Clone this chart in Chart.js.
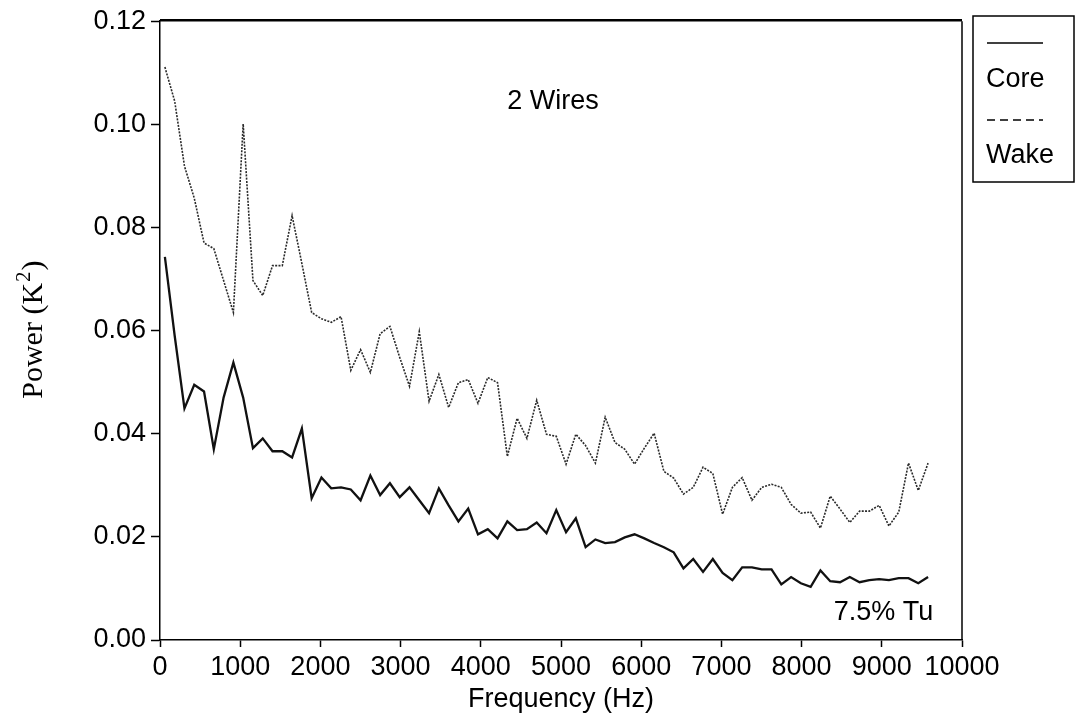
<!DOCTYPE html>
<html lang="en">
<head>
<meta charset="UTF-8">
<title>Power spectrum - 2 Wires</title>
<script src="https://cdn.jsdelivr.net/npm/chart.js"></script>
<style>
  html, body { margin: 0; padding: 0; background: #fff; }
  #wrap { width: 1082px; height: 719px; }
</style>
</head>
<body>
<div id="wrap"><canvas id="grafico" width="1082" height="719"></canvas></div>
<script>
// spectrum bins (Hz)
const freqHz = [
  61, 183, 305, 427, 549, 671, 793, 915, 1037, 1159,
  1281, 1403, 1525, 1647, 1769, 1891, 2013, 2135, 2257, 2379,
  2501, 2623, 2745, 2867, 2989, 3111, 3233, 3355, 3477, 3599,
  3721, 3843, 3965, 4087, 4209, 4331, 4453, 4575, 4697, 4819,
  4941, 5063, 5185, 5307, 5429, 5551, 5673, 5795, 5917, 6039,
  6161, 6283, 6405, 6527, 6649, 6771, 6893, 7015, 7137, 7259,
  7381, 7503, 7625, 7747, 7869, 7991, 8113, 8235, 8357, 8479,
  8601, 8723, 8845, 8967, 9089, 9211, 9333, 9455, 9577
];

// power in K^2, core of the flow
const corePower = [
  0.0743, 0.0590, 0.0449, 0.0495, 0.0482, 0.0370, 0.0470, 0.0538, 0.0470, 0.0372,
  0.0391, 0.0366, 0.0366, 0.0354, 0.0410, 0.0275, 0.0315, 0.0294, 0.0296, 0.0292,
  0.0271, 0.0319, 0.0281, 0.0304, 0.0277, 0.0296, 0.0271, 0.0246, 0.0294, 0.0261,
  0.0230, 0.0255, 0.0205, 0.0215, 0.0197, 0.0230, 0.0213, 0.0215, 0.0228, 0.0207,
  0.0252, 0.0209, 0.0236, 0.0180, 0.0195, 0.0188, 0.0190, 0.0199, 0.0205, 0.0197,
  0.0188, 0.0180, 0.0170, 0.0139, 0.0157, 0.0132, 0.0157, 0.0130, 0.0116, 0.0141,
  0.0141, 0.0137, 0.0137, 0.0108, 0.0122, 0.0110, 0.0103, 0.0135, 0.0114, 0.0112,
  0.0122, 0.0112, 0.0116, 0.0118, 0.0116, 0.0120, 0.0120, 0.0110, 0.0122
];

// power in K^2, wake region
const wakePower = [
  0.1111, 0.1045, 0.0919, 0.0857, 0.0770, 0.0759, 0.0697, 0.0635, 0.1001, 0.0697,
  0.0668, 0.0726, 0.0726, 0.0823, 0.0730, 0.0635, 0.0623, 0.0616, 0.0627, 0.0523,
  0.0563, 0.0519, 0.0594, 0.0608, 0.0548, 0.0492, 0.0598, 0.0463, 0.0515, 0.0451,
  0.0499, 0.0505, 0.0459, 0.0509, 0.0499, 0.0356, 0.0430, 0.0391, 0.0465, 0.0399,
  0.0395, 0.0341, 0.0399, 0.0377, 0.0343, 0.0432, 0.0383, 0.0370, 0.0341, 0.0372,
  0.0401, 0.0327, 0.0314, 0.0283, 0.0296, 0.0335, 0.0323, 0.0244, 0.0296, 0.0315,
  0.0271, 0.0296, 0.0302, 0.0296, 0.0263, 0.0246, 0.0248, 0.0217, 0.0279, 0.0254,
  0.0228, 0.0250, 0.0250, 0.0261, 0.0221, 0.0248, 0.0343, 0.0290, 0.0343
];

const xTicks = [0, 1000, 2000, 3000, 4000, 5000, 6000, 7000, 8000, 9000, 10000];
const yTicks = [0, 0.02, 0.04, 0.06, 0.08, 0.10, 0.12];

const sans = '"Liberation Sans", Arial, Helvetica, sans-serif';
const serif = '"Liberation Serif", "Times New Roman", serif';

// box, notes, axis title and side legend
const decorations = {
  id: 'decorations',
  afterDatasetsDraw(chart) {
    const { ctx, chartArea: a, scales } = chart;
    ctx.save();
    ctx.strokeStyle = '#000';
    ctx.lineWidth = 1.5;
    ctx.beginPath();
    ctx.moveTo(a.right, a.top);
    ctx.lineTo(a.right, a.bottom);
    ctx.stroke();
    ctx.lineWidth = 2.5;
    ctx.beginPath();
    ctx.moveTo(a.left, a.top - 1);
    ctx.lineTo(a.right, a.top - 1);
    ctx.stroke();

    // notes inside the plot
    ctx.fillStyle = '#000';
    ctx.font = '27px ' + sans;
    ctx.textAlign = 'center';
    ctx.textBaseline = 'middle';
    ctx.fillText('2 Wires', scales.x.getPixelForValue(4900), scales.y.getPixelForValue(0.1045));
    ctx.fillText('7.5% Tu', scales.x.getPixelForValue(9020), scales.y.getPixelForValue(0.0054));

    // y axis title with a raised exponent
    ctx.translate(32, (a.top + a.bottom) / 2);
    ctx.rotate(-Math.PI / 2);
    ctx.font = '30px ' + serif;
    const p1 = 'Power (K', p3 = ')';
    const w1 = ctx.measureText(p1).width;
    const w3 = ctx.measureText(p3).width;
    ctx.font = '21px ' + serif;
    const w2 = ctx.measureText('2').width;
    const x0 = -(w1 + w2 + w3) / 2;
    ctx.textAlign = 'left';
    ctx.textBaseline = 'alphabetic';
    ctx.font = '30px ' + serif;
    ctx.fillText(p1, x0, 10);
    ctx.font = '21px ' + serif;
    ctx.fillText('2', x0 + w1 + 1, -2);
    ctx.font = '30px ' + serif;
    ctx.fillText(p3, x0 + w1 + w2 + 2, 10);
    ctx.setTransform(1, 0, 0, 1, 0, 0);

    // legend box at the right of the plot
    const bx = a.right + 11, by = 16, bw = 101, bh = 166;
    ctx.lineWidth = 1.5;
    ctx.strokeStyle = '#000';
    ctx.strokeRect(bx, by, bw, bh);
    const ds = chart.data.datasets;
    ctx.font = '27px ' + sans;
    ctx.textAlign = 'left';
    ctx.textBaseline = 'middle';
    [[ds[0], 27, 64], [ds[1], 104, 140]].forEach(([d, ly, ty], i) => {
      ctx.beginPath();
      ctx.setLineDash(i === 0 ? [] : [8, 5]);
      ctx.lineWidth = 1.5;
      ctx.moveTo(bx + 14, by + ly);
      ctx.lineTo(bx + 70, by + ly);
      ctx.stroke();
      ctx.fillText(d.label, bx + 13, by + ty);
    });
    ctx.restore();
  }
};

new Chart(document.getElementById('grafico').getContext('2d'), {
  type: 'line',
  data: {
    datasets: [
      {
        label: 'Core',
        data: freqHz.map((f, i) => ({ x: f, y: corePower[i] })),
        borderColor: '#111',
        borderWidth: 2.3,
        pointRadius: 0,
        tension: 0,
        fill: false
      },
      {
        label: 'Wake',
        data: freqHz.map((f, i) => ({ x: f, y: wakePower[i] })),
        borderColor: '#2a2a2a',
        borderWidth: 1.6,
        borderDash: [2, 1.3],
        pointRadius: 0,
        tension: 0,
        fill: false
      }
    ]
  },
  options: {
    responsive: false,
    devicePixelRatio: 1,
    animation: false,
    layout: { padding: { top: 19, right: 120, left: 0, bottom: 0 } },
    plugins: {
      legend: { display: false },
      tooltip: { enabled: false }
    },
    scales: {
      x: {
        type: 'linear',
        min: 0,
        max: 10000,
        afterBuildTicks: s => { s.ticks = xTicks.map(v => ({ value: v })); },
        afterFit: s => { s.height = 79; },
        ticks: {
          color: '#000',
          font: { family: sans, size: 27 },
          padding: 4,
          maxRotation: 0,
          autoSkip: false,
          callback: v => String(v)
        },
        grid: { drawOnChartArea: false, drawTicks: true, tickLength: 7, tickColor: '#000', tickWidth: 1.5 },
        border: { display: true, color: '#000', width: 1.5 },
        title: {
          display: true,
          text: 'Frequency (Hz)',
          color: '#000',
          font: { family: sans, size: 27 },
          padding: { top: 0, bottom: 3 }
        }
      },
      y: {
        min: 0,
        max: 0.12,
        afterBuildTicks: s => { s.ticks = yTicks.map(v => ({ value: v })); },
        afterFit: s => { s.width = 160; },
        ticks: {
          color: '#000',
          font: { family: sans, size: 27 },
          padding: 5,
          callback: v => v.toFixed(2)
        },
        grid: { drawOnChartArea: false, drawTicks: true, tickLength: 9, tickColor: '#000', tickWidth: 1.5 },
        border: { display: true, color: '#000', width: 1.5 }
      }
    }
  },
  plugins: [decorations]
});
</script>
</body>
</html>
